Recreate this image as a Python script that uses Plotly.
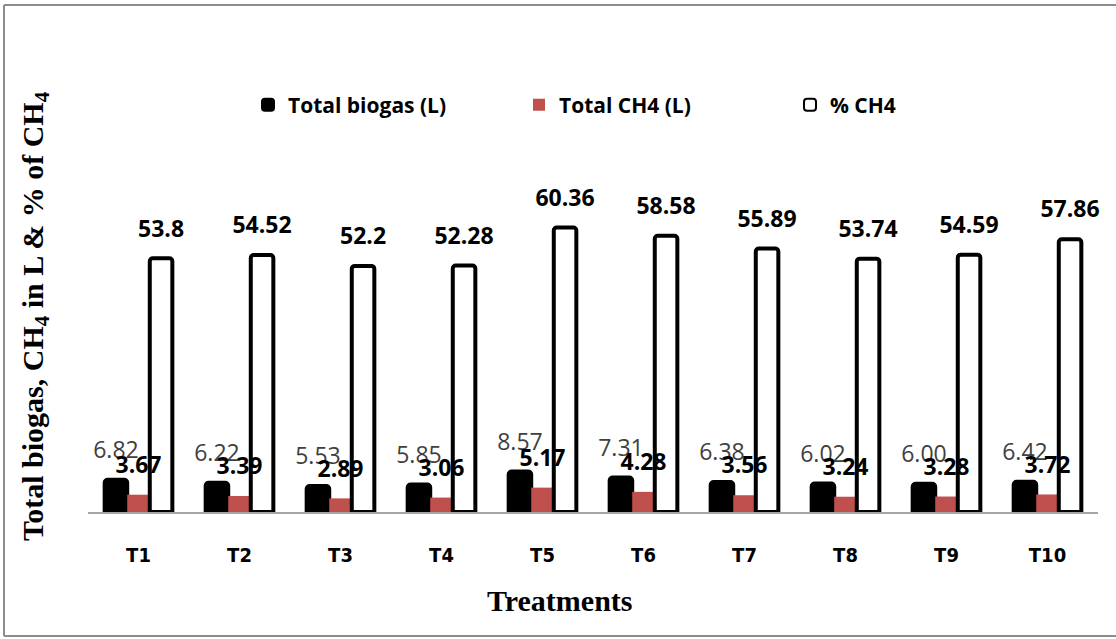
import plotly.graph_objects as go

treatments = ["T1", "T2", "T3", "T4", "T5", "T6", "T7", "T8", "T9", "T10"]
total_biogas = [6.82, 6.22, 5.53, 5.85, 8.57, 7.31, 6.38, 6.02, 6.00, 6.42]
total_ch4 = [3.67, 3.39, 2.89, 3.06, 5.17, 4.28, 3.56, 3.24, 3.28, 3.72]
pct_ch4 = [53.8, 54.52, 52.2, 52.28, 60.36, 58.58, 55.89, 53.74, 54.59, 57.86]

RED = "#C0504D"
GAP = 0.33
NUMFONT = "Open Sans"

fig = go.Figure()
fig.add_trace(go.Bar(x=treatments, y=total_biogas, name="Total biogas (L)",
                     marker=dict(color="black", line=dict(color="black", width=4), cornerradius=3),
                     offsetgroup="a"))
fig.add_trace(go.Bar(x=treatments, y=total_ch4, name="Total CH4 (L)",
                     marker=dict(color=RED, line=dict(width=0)), offsetgroup="b"))
fig.add_trace(go.Bar(x=treatments, y=pct_ch4, name="% CH4",
                     marker=dict(color="white", line=dict(color="black", width=4), cornerradius=3),
                     offsetgroup="c"))

labels = [
    (total_biogas, [f"{v:.2f}" for v in total_biogas], "a", dict(family=NUMFONT, size=23, color="#404040")),
    (total_ch4, [f"{v:.2f}" for v in total_ch4], "b", dict(family=NUMFONT, size=23, color="black", weight="bold")),
    (pct_ch4, [f"{v:g}" for v in pct_ch4], "c", dict(family=NUMFONT, size=23, color="black", weight="bold")),
]
for vals, txt, grp, font in labels:
    fig.add_trace(go.Scatter(x=treatments, y=vals, text=txt, mode="markers+text",
                             textposition="top center", textfont=font,
                             marker=dict(size=24, opacity=0), offsetgroup=grp,
                             showlegend=False, hoverinfo="skip", cliponaxis=False))

W, H = 1116, 639
L, R, T, B = 88, 18, 182, 127
pw, ph = W - L - R, H - T - B


def px(x):
    return (x - L) / pw


def py(y):
    return (H - B - y) / ph


frame = dict(color="#8C8C8C", width=2)
fig.update_layout(
    width=W, height=H,
    margin=dict(l=L, r=R, t=T, b=B, autoexpand=False),
    paper_bgcolor="white", plot_bgcolor="white",
    barmode="group", bargap=GAP, bargroupgap=0,
    scattermode="group", scattergap=GAP,
    legend=dict(orientation="h", x=px(248), xanchor="left",
                y=py(105), yanchor="middle", bgcolor="rgba(0,0,0,0)",
                font=dict(family="Open Sans", size=21, color="black", weight="bold"),
                entrywidth=226, itemsizing="constant"),
    xaxis=dict(showline=True, linecolor="#A6A6A6", linewidth=2, ticks="",
               tickfont=dict(family="DejaVu Sans Condensed", size=20, color="black", weight="bold"),
               ticklabelstandoff=24),
    yaxis=dict(range=[0, 70], showticklabels=False, showgrid=False, zeroline=False,
               showline=False, ticks=""),
    annotations=[
        dict(text="Treatments", xref="paper", yref="paper",
             x=px(560), y=py(600), xanchor="center", yanchor="middle",
             showarrow=False,
             font=dict(family="Liberation Serif", size=30, color="black", weight="bold")),
        dict(text="Total biogas, CH<sub>4</sub> in L & % of CH<sub>4</sub>", xref="paper", yref="paper",
             x=px(35), y=py(316), xanchor="center", yanchor="middle",
             textangle=-90, showarrow=False,
             font=dict(family="Liberation Serif", size=30, color="black", weight="bold")),
    ],
    shapes=[
        dict(type="line", xref="paper", yref="paper", x0=px(4), x1=px(4), y0=py(636), y1=py(5), line=frame),
        dict(type="line", xref="paper", yref="paper", x0=px(4), x1=px(W + 20), y0=py(5), y1=py(5), line=frame),
        dict(type="line", xref="paper", yref="paper", x0=px(4), x1=px(W + 20), y0=py(636), y1=py(636), line=frame),
    ],
)

fig.write_html("out.html")
